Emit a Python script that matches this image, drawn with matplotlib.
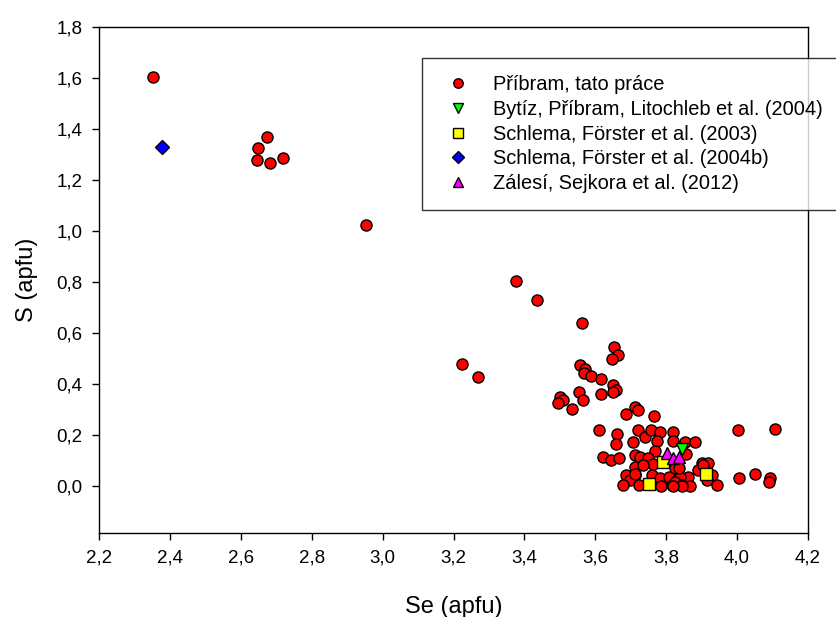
import matplotlib
matplotlib.use("Agg")
import matplotlib.pyplot as plt

plt.rcParams['font.family'] = ['Liberation Sans', 'DejaVu Sans']

# Příbram, tato práce
pribram_se = [2.352, 2.675, 2.648, 2.645, 2.682, 2.719, 2.954, 3.376, 3.436, 3.562,
              3.223, 3.268, 3.652, 3.663, 3.648, 3.557, 3.571, 3.568, 3.588, 3.617,
              3.649, 3.658, 3.649, 3.555, 3.565, 3.615, 3.500, 3.510, 3.496, 3.534,
              3.711, 3.721, 3.688, 3.766, 3.611, 3.662, 3.658, 3.707, 3.721, 3.740,
              3.757, 3.782, 3.773, 3.820, 3.820, 3.853, 3.881, 3.622, 3.643, 3.667,
              3.712, 3.726, 3.768, 3.749, 3.763, 3.712, 3.735, 3.712, 3.688, 3.697,
              3.678, 3.724, 3.759, 3.782, 3.784, 3.808, 3.816, 3.831, 3.900, 3.918,
              3.890, 3.928, 3.942, 3.914, 3.862, 3.839, 3.825, 3.844, 3.867, 4.003,
              4.107, 4.006, 4.051, 4.093, 4.089, 3.856, 3.819, 3.825, 3.835, 3.904,
              3.844, 3.820, 3.713]
pribram_s = [1.601, 1.368, 1.325, 1.276, 1.266, 1.284, 1.024, 0.804, 0.729, 0.640,
             0.480, 0.426, 0.544, 0.515, 0.496, 0.476, 0.457, 0.444, 0.431, 0.421,
             0.395, 0.376, 0.370, 0.368, 0.339, 0.360, 0.350, 0.337, 0.324, 0.303,
             0.308, 0.298, 0.282, 0.274, 0.219, 0.203, 0.163, 0.171, 0.219, 0.193,
             0.219, 0.212, 0.176, 0.212, 0.176, 0.173, 0.173, 0.115, 0.102, 0.111,
             0.122, 0.115, 0.137, 0.109, 0.085, 0.076, 0.083, 0.043, 0.043, 0.023,
             0.004, 0.004, 0.043, 0.030, 0.001, 0.036, 0.004, 0.023, 0.089, 0.089,
             0.062, 0.043, 0.004, 0.023, 0.036, 0.036, 0.017, 0.004, 0.001, 0.219,
             0.222, 0.032, 0.046, 0.030, 0.017, 0.126, 0.094, 0.069, 0.070, 0.083,
             0.001, 0.000, 0.049]

# Bytíz, Příbram, Litochleb et al. (2004)
bytiz_se = [3.844]
bytiz_s = [0.144]

# Schlema, Förster et al. (2003)
schlema03_se = [3.792, 3.912, 3.752]
schlema03_s = [0.096, 0.046, 0.007]

# Schlema, Förster et al. (2004b)
schlema04_se = [2.377]
schlema04_s = [1.329]

# Zálesí, Sejkora et al. (2012)
zalesi_se = [3.802, 3.819, 3.837]
zalesi_s = [0.128, 0.111, 0.113]

series_labels = ["Příbram, tato práce",
                 "Bytíz, Příbram, Litochleb et al. (2004)",
                 "Schlema, Förster et al. (2003)",
                 "Schlema, Förster et al. (2004b)",
                 "Zálesí, Sejkora et al. (2012)"]

xticks = [2.2, 2.4, 2.6, 2.8, 3.0, 3.2, 3.4, 3.6, 3.8, 4.0, 4.2]
xtick_labels = ["2,2", "2,4", "2,6", "2,8", "3,0", "3,2", "3,4", "3,6", "3,8", "4,0", "4,2"]
yticks = [0.0, 0.2, 0.4, 0.6, 0.8, 1.0, 1.2, 1.4, 1.6, 1.8]
ytick_labels = ["0,0", "0,2", "0,4", "0,6", "0,8", "1,0", "1,2", "1,4", "1,6", "1,8"]

W, H = 836, 617
fig = plt.figure(figsize=(W / 100, H / 100), dpi=100)
L, R, T, B = 99, 808, 26.5, 533.3
ax = fig.add_axes([L / W, 1 - B / H, (R - L) / W, (B - T) / H])

ms = 8.0
kw = dict(linestyle='none', markeredgecolor='black', markeredgewidth=1.0)
ax.plot(pribram_se, pribram_s, marker='o', color='#ff0000', markersize=ms, label=series_labels[0], **kw)
ax.plot(bytiz_se, bytiz_s, marker='v', color='#00ff00', markersize=ms + 1, label=series_labels[1], **kw)
ax.plot(schlema03_se, schlema03_s, marker='s', color='#ffff00', markersize=ms, label=series_labels[2], **kw)
ax.plot(schlema04_se, schlema04_s, marker='D', color='#0000ff', markersize=ms - 1, label=series_labels[3], **kw)
ax.plot(zalesi_se, zalesi_s, marker='^', color='#ff00ff', markersize=ms + 1, label=series_labels[4], **kw)

ax.set_xlim(2.2, 4.2)
ax.set_ylim(-0.185, 1.8)
ax.set_xticks(xticks)
ax.set_xticklabels(xtick_labels)
ax.set_yticks(yticks)
ax.set_yticklabels(ytick_labels)
ax.tick_params(direction='out', length=5, width=1, labelsize=13.5, top=False, right=False, pad=7)
for sp in ax.spines.values():
    sp.set_linewidth(1.0)
    sp.set_color('black')

fig.text((L + R) / 2 / W, 1 - 607 / H, "Se (apfu)", fontsize=17, ha='center', va='center')
fig.text(27.5 / W, 1 - (T + B) / 2 / H, "S (apfu)", fontsize=17, ha='center', va='center',
         rotation=90)

leg = fig.legend(loc='upper left', bbox_to_anchor=(422 / W, 1 - 58 / H), fontsize=14.4,
                 markerscale=0.85, frameon=True, fancybox=False, borderpad=0.85,
                 labelspacing=0.29, handletextpad=0.8, handlelength=1.9, borderaxespad=0)
leg.get_frame().set_edgecolor('black')
leg.get_frame().set_linewidth(1.0)

fig.savefig("out.png", dpi=100)
